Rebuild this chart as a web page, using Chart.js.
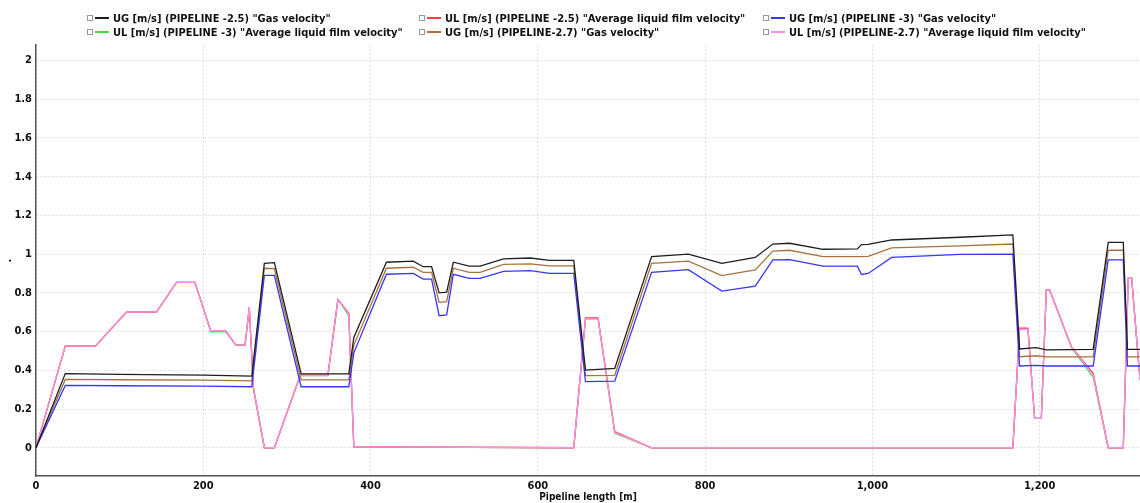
<!DOCTYPE html>
<html>
<head>
<meta charset="utf-8">
<script src="https://cdn.jsdelivr.net/npm/chart.js@4.4.1/dist/chart.umd.min.js"></script>
<style>
  html, body { margin: 0; padding: 0; background: #fff; }
  #wrap { position: relative; width: 1140px; height: 503px; overflow: hidden; }
  #chart { position: absolute; left: 0; top: 0; }
  .lg { position: absolute; height: 14px; display: flex; align-items: center;
        font: bold 11px "DejaVu Sans Condensed", "DejaVu Sans", sans-serif; color: #111; white-space: nowrap; }
  .lg .box { width: 4px; height: 4px; border: 1px solid #999; margin-right: 2px; background: #fff; }
  .lg .ln { width: 14px; height: 2px; margin-right: 4px; }
</style>
</head>
<body>
<div id="wrap">
  <canvas id="chart" width="1140" height="503"></canvas>
  <div id="legend"></div>
</div>
<script>
// Pipeline positions [m] where the gas velocity profiles are sampled
const gasPos = [0, 35, 100, 200, 258, 273, 285, 317, 374, 380, 419, 451, 463, 473, 482, 491, 499, 518, 531,
  559, 591, 614, 643, 657, 692, 736, 780, 820, 860, 881, 901, 941, 982, 987, 995, 1023, 1105, 1168, 1176,
  1196, 1208, 1264, 1282, 1300, 1305, 1320];

// UG [m/s] (PIPELINE -2.5)
const ug25 = [0, 0.383, 0.379, 0.375, 0.370, 0.952, 0.956, 0.381, 0.381, 0.57, 0.958, 0.964, 0.935, 0.935, 0.80,
  0.804, 0.958, 0.938, 0.938, 0.975, 0.98, 0.968, 0.968, 0.401, 0.41, 0.987, 1.0, 0.952, 0.983, 1.052, 1.056,
  1.025, 1.027, 1.049, 1.05, 1.073, 1.087, 1.099, 0.51, 0.517, 0.505, 0.508, 1.061, 1.061, 0.508, 0.508];

// UG [m/s] (PIPELINE -3)
const ug3 = [0, 0.322, 0.320, 0.318, 0.315, 0.89, 0.89, 0.315, 0.315, 0.49, 0.896, 0.9, 0.871, 0.871, 0.682,
  0.686, 0.896, 0.875, 0.875, 0.911, 0.915, 0.9, 0.9, 0.341, 0.344, 0.906, 0.92, 0.809, 0.835, 0.97, 0.972,
  0.938, 0.938, 0.895, 0.9, 0.983, 0.999, 1.0, 0.422, 0.425, 0.422, 0.422, 0.97, 0.97, 0.422, 0.422];

// UG [m/s] (PIPELINE-2.7)
const ug27 = [0, 0.353, 0.351, 0.349, 0.345, 0.927, 0.925, 0.35, 0.35, 0.53, 0.927, 0.932, 0.906, 0.906, 0.751,
  0.755, 0.927, 0.906, 0.906, 0.947, 0.95, 0.939, 0.939, 0.372, 0.374, 0.952, 0.964, 0.889, 0.918, 1.016, 1.02,
  0.987, 0.987, 0.987, 0.988, 1.032, 1.043, 1.052, 0.47, 0.475, 0.469, 0.469, 1.02, 1.02, 0.469, 0.469];

// Pipeline positions [m] where the liquid film velocity profiles are sampled
const liqPos = [0, 35, 71, 108, 144, 168, 190, 209, 227, 239, 250, 255, 260, 273, 285, 316, 349, 361, 374, 380,
  400, 643, 657, 672, 692, 736, 1168, 1176, 1186, 1194, 1202, 1208, 1212, 1238, 1264, 1282, 1300, 1306, 1310, 1320];

// UL [m/s] (PIPELINE -2.5)
const ul25 = [0, 0.525, 0.525, 0.70, 0.70, 0.854, 0.854, 0.603, 0.603, 0.53, 0.53, 0.725, 0.31, 0, 0, 0.375,
  0.375, 0.766, 0.694, 0.005, 0.004, 0, 0.67, 0.67, 0.083, 0, 0, 0.617, 0.617, 0.152, 0.152, 0.815, 0.815,
  0.522, 0.385, 0, 0, 0.878, 0.878, 0.35];

// UL [m/s] (PIPELINE -3)
const ul3 = [0, 0.525, 0.525, 0.70, 0.70, 0.854, 0.854, 0.598, 0.598, 0.53, 0.53, 0.725, 0.30, 0, 0, 0.372,
  0.372, 0.766, 0.682, 0.005, 0.004, 0, 0.665, 0.665, 0.074, 0, 0, 0.612, 0.612, 0.152, 0.152, 0.815, 0.815,
  0.518, 0.365, 0, 0, 0.878, 0.878, 0.35];

// UL [m/s] (PIPELINE-2.7)
const ul27 = [0, 0.525, 0.525, 0.70, 0.70, 0.854, 0.854, 0.603, 0.603, 0.53, 0.53, 0.725, 0.31, 0, 0, 0.372,
  0.372, 0.766, 0.69, 0.005, 0.004, 0, 0.665, 0.665, 0.079, 0, 0, 0.612, 0.612, 0.152, 0.152, 0.815, 0.815,
  0.522, 0.375, 0, 0, 0.878, 0.878, 0.35];

// Axis ticks
const xTicks = [0, 200, 400, 600, 800, 1000, 1200];
const yTicks = [0, 0.2, 0.4, 0.6, 0.8, 1, 1.2, 1.4, 1.6, 1.8, 2];

const seriesLabels = [
  'UG [m/s] (PIPELINE -2.5) "Gas velocity"',
  'UL [m/s] (PIPELINE -2.5) "Average liquid film velocity"',
  'UG [m/s] (PIPELINE -3) "Gas velocity"',
  'UL [m/s] (PIPELINE -3) "Average liquid film velocity"',
  'UG [m/s] (PIPELINE-2.7) "Gas velocity"',
  'UL [m/s] (PIPELINE-2.7) "Average liquid film velocity"'
];
const seriesColors = ['#1e1e1e', '#ff3b3b', '#3636ff', '#3fe03f', '#a8713f', '#ff8ef0'];

const toPoints = (xs, ys) => xs.map((x, i) => ({ x: x, y: ys[i] }));
const lineSet = (idx, xs, ys, order) => ({
  label: seriesLabels[idx],
  data: toPoints(xs, ys),
  borderColor: seriesColors[idx],
  backgroundColor: seriesColors[idx],
  borderWidth: 1.3,
  pointRadius: 0,
  showLine: true,
  tension: 0,
  order: order
});

const datasets = [
  lineSet(0, gasPos, ug25, 1),
  lineSet(1, liqPos, ul25, 3),
  lineSet(2, gasPos, ug3, 2),
  lineSet(3, liqPos, ul3, 4),
  lineSet(4, gasPos, ug27, 2),
  lineSet(5, liqPos, ul27, 2)
];

const tickFont = { family: '"DejaVu Sans Condensed", "DejaVu Sans", sans-serif', size: 11, weight: 'bold' };
const titleFont = { family: '"DejaVu Sans Condensed", "DejaVu Sans", sans-serif', size: 10, weight: 'bold' };

new Chart(document.getElementById('chart'), {
  type: 'scatter',
  data: { datasets: datasets },
  options: {
    responsive: false,
    animation: false,
    layout: { padding: { top: 45, left: 0, right: 0, bottom: 0 } },
    plugins: { legend: { display: false }, tooltip: { enabled: false } },
    scales: {
      x: {
        type: 'linear',
        min: 0,
        max: 1320,
        afterBuildTicks: (axis) => { axis.ticks = xTicks.map(v => ({ value: v })); },
        afterFit: (axis) => { axis.height = 27; },
        ticks: {
          font: tickFont,
          color: '#111',
          padding: 4,
          callback: (v) => v.toLocaleString('en-US')
        },
        grid: { color: '#dedede', lineWidth: 1, drawTicks: false },
        border: { display: true, color: '#555', width: 1.5, dash: [2, 2] },
        title: { display: true, text: 'Pipeline length [m]', font: titleFont, color: '#111', padding: 0 }
      },
      y: {
        type: 'linear',
        min: -0.146,
        max: 2.08,
        afterBuildTicks: (axis) => { axis.ticks = yTicks.map(v => ({ value: v })); },
        afterFit: (axis) => { axis.width = 36; },
        ticks: {
          font: tickFont,
          color: '#111',
          padding: 4,
          callback: (v) => String(Math.round(v * 10) / 10)
        },
        grid: { color: '#dedede', lineWidth: 1, drawTicks: false },
        border: { display: true, color: '#555', width: 1.5, dash: [2, 2] },
        title: { display: true, text: '.', font: tickFont, color: '#111', padding: 2 }
      }
    }
  }
});

// Legend: three columns, two rows
const legendPlaces = [
  { left: 87, top: 11 }, { left: 419, top: 11 }, { left: 763, top: 11 },
  { left: 87, top: 25 }, { left: 419, top: 25 }, { left: 763, top: 25 }
];
const legendEl = document.getElementById('legend');
seriesLabels.forEach((label, idx) => {
  const item = document.createElement('div');
  item.className = 'lg';
  item.style.left = legendPlaces[idx].left + 'px';
  item.style.top = legendPlaces[idx].top + 'px';
  const box = document.createElement('span'); box.className = 'box';
  const ln = document.createElement('span'); ln.className = 'ln'; ln.style.background = seriesColors[idx];
  const tx = document.createElement('span'); tx.textContent = label;
  item.appendChild(box); item.appendChild(ln); item.appendChild(tx);
  legendEl.appendChild(item);
});
</script>
</body>
</html>
